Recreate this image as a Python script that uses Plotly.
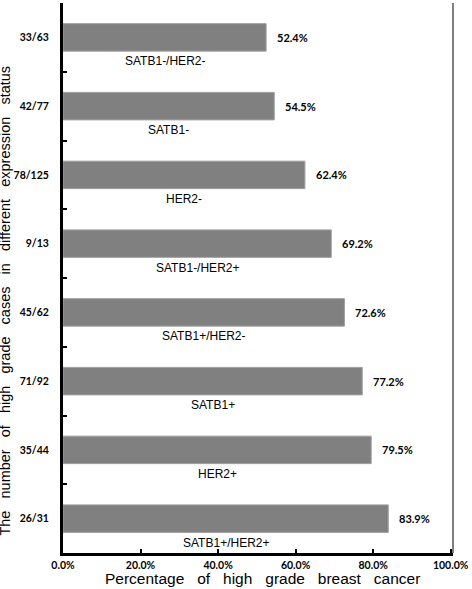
import plotly.graph_objects as go

fractions = ["33/63", "42/77", "78/125", "9/13", "45/62", "71/92", "35/44", "26/31"]
groups = ["SATB1-/HER2-", "SATB1-", "HER2-", "SATB1-/HER2+", "SATB1+/HER2-", "SATB1+", "HER2+", "SATB1+/HER2+"]
percents = [52.4, 54.5, 62.4, 69.2, 72.6, 77.2, 79.5, 83.9]
x_ticks = [0, 20, 40, 60, 80, 100]

NB = "\u00a0"
def spaced(s, n=3):
    return (NB * n).join(s.split(" "))

fig = go.Figure()
fig.add_trace(go.Bar(
    x=percents, y=fractions, orientation="h", width=0.4,
    marker=dict(color="#808080", line=dict(color="#a0a0a0", width=1)),
    hoverinfo="skip",
))

annotations = []
for f, g, p in zip(fractions, groups, percents):
    annotations.append(dict(x=p, y=f, xref="x", yref="y", text=f"<b>{p:.1f}%</b>",
                            showarrow=False, xanchor="left", xshift=9,
                            font=dict(family="Lato", size=11, color="black")))
    annotations.append(dict(x=p / 2, y=f, xref="x", yref="y", text=g,
                            showarrow=False, xanchor="center", yanchor="top", yshift=-15,
                            font=dict(family="Liberation Sans", size=12, color="black")))

annotations.append(dict(x=0.512, y=0, xref="paper", yref="paper", yanchor="top", yshift=-15,
                        text=spaced("Percentage of high grade breast cancer", 3), showarrow=False,
                        font=dict(family="Liberation Sans", size=15.5, color="black")))
annotations.append(dict(x=0, y=0.459, xref="paper", yref="paper", xanchor="right", xshift=-48,
                        text=spaced("The number of high grade cases in different expression status", 3),
                        textangle=-90, showarrow=False,
                        font=dict(family="Liberation Sans", size=14.5, color="black")))

fig.update_layout(
    width=472, height=589,
    margin=dict(l=63, r=19, t=3, b=36),
    plot_bgcolor="white", paper_bgcolor="white",
    showlegend=False,
    annotations=annotations,
    xaxis=dict(range=[0, 100.6], tickvals=x_ticks, ticktext=[f"<b>{v:.1f}%</b>" for v in x_ticks],
               automargin=False,
               showgrid=False, zeroline=False, showline=True, linecolor="black", linewidth=3,
               ticks="inside", ticklen=4, tickcolor="black", tickwidth=2,
               tickfont=dict(family="Lato", size=10.5, color="black")),
    yaxis=dict(autorange="reversed", tickvals=fractions, ticktext=[f"<b>{f}</b>" for f in fractions],
               automargin=False,
               showgrid=False, zeroline=False, showline=True, linecolor="black", linewidth=3,
               tickson="boundaries", ticks="inside", ticklen=4, tickcolor="black", tickwidth=2,
               tickfont=dict(family="Lato", size=10.5, color="black"), ticklabelstandoff=9),
    shapes=[dict(type="line", xref="paper", yref="paper", x0=1, x1=1, y0=0, y1=1,
                 line=dict(color="black", width=1))],
)

fig.write_html("out.html", config={"displayModeBar": False},
               post_script="document.body.style.margin='0';document.body.style.overflow='hidden';")
